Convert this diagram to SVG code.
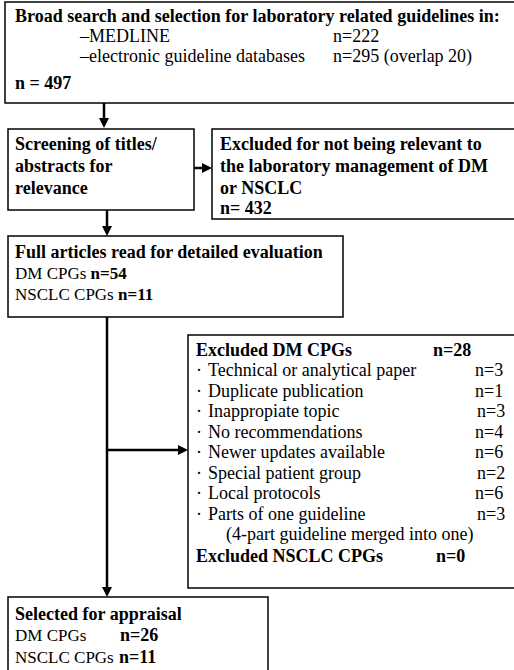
<svg xmlns="http://www.w3.org/2000/svg" width="514" height="670" viewBox="0 0 514 670">
<defs>
<style>
text{font-family:"Liberation Serif","Times New Roman",serif;font-size:18px;fill:#000}
.b{font-weight:bold}
.s{font-size:17px}
.box{fill:#fff;stroke:#000;stroke-width:1.5}
.con{stroke:#000;stroke-width:2.5;fill:none}
</style>
<marker id="ah" viewBox="0 0 10 10" refX="4" refY="5" markerWidth="10" markerHeight="10" markerUnits="userSpaceOnUse" orient="auto">
<path d="M0,0 L10,5 L0,10 z" fill="#000"/>
</marker>
</defs>
<rect width="514" height="670" fill="#fff"/>
<g id="connectors">
<line class="con" x1="104" y1="103" x2="104" y2="122" marker-end="url(#ah)"/>
<line class="con" x1="194" y1="168" x2="206" y2="168" marker-end="url(#ah)"/>
<line class="con" x1="107" y1="210" x2="107" y2="230" marker-end="url(#ah)"/>
<line class="con" x1="107" y1="317" x2="107" y2="591" marker-end="url(#ah)"/>
<line class="con" x1="107" y1="450" x2="182" y2="450" marker-end="url(#ah)"/>
</g>
<g id="search">
<rect class="box" x="5" y="2" width="520" height="101"/>
<text class="b" x="15" y="22">Broad search and selection for laboratory related guidelines in:</text>
<text x="80" y="42">–MEDLINE</text>
<text x="333" y="42">n=222</text>
<text x="80" y="62">–electronic guideline databases</text>
<text x="333" y="62">n=295 (overlap 20)</text>
<text class="b" x="15" y="89">n = 497</text>
</g>
<g id="screening">
<rect class="box" x="8" y="129" width="186" height="81"/>
<text class="b" x="15" y="150">Screening of titles/</text>
<text class="b" x="15" y="172">abstracts for</text>
<text class="b" x="15" y="194">relevance</text>
</g>
<g id="excluded1">
<rect class="box" x="212" y="129" width="310" height="90"/>
<text class="b" x="220" y="150">Excluded for not being relevant to</text>
<text class="b" x="220" y="172">the laboratory management of DM</text>
<text class="b" x="220" y="194">or NSCLC</text>
<text class="b" x="220" y="214">n= 432</text>
</g>
<g id="fullarticles">
<rect class="box" x="8" y="236" width="335" height="81"/>
<text class="b" x="15" y="258">Full articles read for detailed evaluation</text>
<text class="s" x="15" y="279">DM CPGs <tspan class="b">n=54</tspan></text>
<text class="s" x="15" y="300">NSCLC CPGs <tspan class="b">n=11</tspan></text>
</g>
<g id="excluded2">
<rect class="box" x="188" y="335" width="334" height="253"/>
<text class="b" x="196" y="356">Excluded DM CPGs</text>
<text class="b" x="433" y="356">n=28</text>
<g>
<text x="196" y="376">·</text><text x="208" y="376">Technical or analytical paper</text><text x="475" y="376">n=3</text>
<text x="196" y="397">·</text><text x="208" y="397">Duplicate publication</text><text x="475" y="397">n=1</text>
<text x="196" y="417">·</text><text x="208" y="417">Inappropiate topic</text><text x="477" y="417">n=3</text>
<text x="196" y="438">·</text><text x="208" y="438">No recommendations</text><text x="475" y="438">n=4</text>
<text x="196" y="458">·</text><text x="208" y="458">Newer updates available</text><text x="475" y="458">n=6</text>
<text x="196" y="479">·</text><text x="208" y="479">Special patient group</text><text x="477" y="479">n=2</text>
<text x="196" y="499">·</text><text x="208" y="499">Local protocols</text><text x="475" y="499">n=6</text>
<text x="196" y="520">·</text><text x="208" y="520">Parts of one guideline</text><text x="477" y="520">n=3</text>
<text x="226" y="540">(4-part guideline merged into one)</text>
</g>
<text class="b" x="196" y="562">Excluded NSCLC CPGs</text>
<text class="b" x="436" y="562">n=0</text>
</g>
<g id="selected">
<rect class="box" x="8" y="597" width="260" height="90"/>
<text class="b" x="15" y="620">Selected for appraisal</text>
<text class="s" x="15" y="641">DM CPGs</text><text class="b" x="120" y="641">n=26</text>
<text class="s" x="15" y="663">NSCLC CPGs</text><text class="b" x="119" y="663">n=11</text>
</g>
</svg>
